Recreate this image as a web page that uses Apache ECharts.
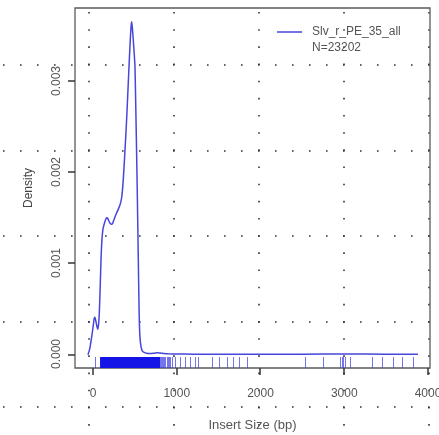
<!DOCTYPE html>
<html>
<head>
<meta charset="utf-8">
<script src="https://cdn.jsdelivr.net/npm/echarts@6/dist/echarts.min.js"></script>
<style>
  html, body { margin: 0; padding: 0; background: #ffffff; }
  #chart { width: 439px; height: 435px; }
</style>
</head>
<body>
<div id="chart"></div>
<script>
// ---- data ----
const densityX = [-60, -40, -20, 0, 10, 18, 26, 36, 46, 56, 66, 76, 86, 96, 106, 118, 130, 143, 155, 165,
  178, 192, 205, 220, 235, 250, 263, 280, 300, 322, 342, 360, 382, 400, 415, 430, 445, 455, 462, 470,
  480, 490, 501, 510, 520, 530, 540, 550, 560, 575, 590, 610, 640, 680, 720, 760, 800, 850, 900, 1000,
  1200, 1500, 2000, 2500, 3000, 3500, 3880];
const densityY = [0, 0.00006, 0.00017, 0.00030, 0.00037, 0.00041, 0.00040, 0.00036, 0.00031, 0.00028,
  0.00033, 0.00047, 0.00075, 0.00105, 0.00125, 0.00137, 0.00142, 0.00146, 0.00149, 0.00150,
  0.00149, 0.00146, 0.00144, 0.00143, 0.00144, 0.00148, 0.00151, 0.00155, 0.00159, 0.00164,
  0.00172, 0.00190, 0.00224, 0.00255, 0.00285, 0.00316, 0.00345, 0.00360, 0.00365, 0.00358,
  0.00346, 0.00333, 0.00316, 0.00275, 0.00225, 0.00170, 0.00110, 0.00050, 0.00020, 0.00008,
  0.00004, 0.000025, 0.000015, 0.000012, 0.000015, 0.00002, 0.000018, 0.000012, 0.000009, 0.000007,
  0.000006, 0.000006, 0.000006, 0.000006, 0.000007, 0.000006, 0.000006];
const rugTicks = [24, 805, 815, 825, 840, 850, 865, 880, 895, 910, 925, 945, 985, 1040, 1100, 1160,
  1215, 1250, 1420, 1510, 1600, 1670, 1745, 1840, 2530, 2750, 2950, 2970, 2990, 3010, 3070,
  3330, 3450, 3580, 3690, 3820];
const rugBlocks = [[84, 800]];
const xTicks = [0, 1000, 2000, 3000, 4000];
const yTicks = [0, 0.001, 0.002, 0.003];
const seriesName = 'Slv_r_PE_35_all';
const countLabel = 'N=23202';
const xTitle = 'Insert Size (bp)';
const yTitle = 'Density';

// ---- chart ----
const X_MIN = -215, X_MAX = 4024;
const Y_MIN = -0.000146, Y_MAX = 0.0038;
const RUG_H = 11;
const FONT = "'Liberation Sans', Arial, Helvetica, sans-serif";
const TXT = '#555555';
const TICK = '#333333';
const BORDER = '#5a5a5a';
const LINE = '#4646dc';

const chart = echarts.init(document.getElementById('chart'), null, { renderer: 'canvas' });

const hiddenAxis = (gi, extra) => Object.assign({
  gridIndex: gi, type: 'value', min: 0, max: 1,
  axisLine: { show: false, onZero: false }, axisTick: { show: false }, axisLabel: { show: false },
  splitLine: { show: false }
}, extra || {});

const G = { show: false, outerBoundsMode: 'none', containLabel: false };

const option = {
  animation: false,
  backgroundColor: '#ffffff',
  textStyle: { fontFamily: FONT },
  grid: [
    // 0: plot region
    Object.assign({}, G, { left: 75, top: 8, width: 355, height: 360, show: true, borderColor: BORDER, borderWidth: 1.3, backgroundColor: 'transparent', z: 1 }),
    // 1, 2: dotted overlay lines
    Object.assign({}, G, { left: 89, top: 0, width: 340, height: 435 }),
    Object.assign({}, G, { left: 0, top: 65, width: 439, height: 342 }),
    // 3: x label axis (0..4000 span of the plot's x scale)
    Object.assign({}, G, { left: 93, top: 8, width: 335, height: 360 }),
    // 4: y label axis (0..0.003 span of the plot's y scale)
    Object.assign({}, G, { left: 75, top: 81, width: 355, height: 273 }),
    // 5: strip under the box holding x tick marks
    Object.assign({}, G, { left: 75, top: 368, width: 355, height: 7 }),
    // 6: strip left of the box holding y tick marks
    Object.assign({}, G, { left: 68, top: 8, width: 7, height: 360 })
  ],
  xAxis: [
    {
      gridIndex: 0, type: 'value', min: X_MIN, max: X_MAX, position: 'bottom',
      axisLine: { show: false, onZero: false }, axisTick: { show: false }, axisLabel: { show: false },
      splitLine: { show: false },
      name: xTitle, nameLocation: 'middle', nameGap: 51,
      nameTextStyle: { color: TXT, fontSize: 13, fontFamily: FONT }
    },
    hiddenAxis(1, {
      min: 0, max: 340, interval: 85,
      splitLine: { show: true, lineStyle: { color: '#333333', width: 1.6, type: [1.6, 15.57], dashOffset: 5.2 } }
    }),
    hiddenAxis(2),
    {
      gridIndex: 3, type: 'value', min: xTicks[0], max: xTicks[xTicks.length - 1], interval: xTicks[1] - xTicks[0], position: 'bottom',
      axisLine: { show: false, onZero: false },
      axisTick: { show: false },
      axisLabel: { show: true, color: TXT, fontSize: 12, margin: 20, fontFamily: FONT, formatter: v => String(v) },
      splitLine: { show: false }
    },
    hiddenAxis(4),
    hiddenAxis(5, { min: X_MIN, max: X_MAX }),
    hiddenAxis(6)
  ],
  yAxis: [
    {
      gridIndex: 0, type: 'value', min: Y_MIN, max: Y_MAX, position: 'left',
      axisLine: { show: false, onZero: false }, axisTick: { show: false }, axisLabel: { show: false },
      splitLine: { show: false },
      name: yTitle, nameLocation: 'middle', nameGap: 40,
      nameTextStyle: { color: '#444444', fontSize: 12, fontFamily: FONT }
    },
    hiddenAxis(1),
    hiddenAxis(2, {
      min: 0, max: 342, interval: 85.5,
      splitLine: { show: true, lineStyle: { color: '#333333', width: 1.6, type: [1.6, 15.4], dashOffset: 14 } }
    }),
    hiddenAxis(3),
    {
      gridIndex: 4, type: 'value', min: yTicks[0], max: yTicks[yTicks.length - 1], interval: 0.001, position: 'left',
      axisLine: { show: false, onZero: false },
      axisTick: { show: false },
      axisLabel: { show: true, rotate: 90, color: TXT, fontSize: 12, margin: 12, fontFamily: FONT,
        formatter: v => v.toFixed(3) },
      splitLine: { show: false }
    },
    hiddenAxis(5),
    hiddenAxis(6, { min: Y_MIN, max: Y_MAX })
  ],
  legend: {
    orient: 'vertical', left: 277, top: 26, padding: 0,
    itemWidth: 25, itemHeight: 14, itemGap: 4,
    symbolKeepAspect: true,
    textStyle: { color: TXT, fontSize: 12, fontFamily: FONT, padding: [0, 0, 0, 5] },
    data: [
      { name: seriesName, icon: 'path://M0,0L100,0L100,6L0,6Z' },
      { name: countLabel, icon: 'path://M0,0L100,0L100,6L0,6Z' }
    ],
    selectedMode: false
  },
  series: [
    {
      name: seriesName, type: 'line', xAxisIndex: 0, yAxisIndex: 0,
      data: densityX.map((x, i) => [x, densityY[i]]),
      symbol: 'none', smooth: 0.2,
      lineStyle: { color: LINE, width: 1.5 },
      itemStyle: { color: LINE },
      z: 4
    },
    {
      name: countLabel, type: 'line', xAxisIndex: 0, yAxisIndex: 0,
      data: [], symbol: 'none',
      lineStyle: { color: 'rgba(0,0,0,0)', width: 0 },
      itemStyle: { color: 'rgba(0,0,0,0)' }
    },
    {
      // rug: densely packed region
      type: 'custom', xAxisIndex: 0, yAxisIndex: 0, z: 3,
      data: rugBlocks,
      renderItem: (params, api) => {
        const p0 = api.coord([api.value(0), Y_MIN]);
        const p1 = api.coord([api.value(1), Y_MIN]);
        return { type: 'rect', shape: { x: p0[0], y: p0[1] - RUG_H, width: p1[0] - p0[0], height: RUG_H },
          style: { fill: '#1414e6' } };
      }
    },
    {
      // rug: individual observations
      type: 'custom', xAxisIndex: 0, yAxisIndex: 0, z: 3,
      data: rugTicks.map(v => [v]),
      renderItem: (params, api) => {
        const p = api.coord([api.value(0), Y_MIN]);
        const x = Math.round(p[0]) + 0.5;
        return { type: 'line', shape: { x1: x, y1: p[1], x2: x, y2: p[1] - RUG_H },
          style: { stroke: '#3a3ae0', lineWidth: 1, opacity: 0.7 } };
      }
    },
    {
      // x axis tick marks: strip grid under the box
      type: 'custom', xAxisIndex: 5, yAxisIndex: 5, z: 5, silent: true,
      data: xTicks.map(v => [v, 1]),
      renderItem: (params, api) => {
        const top = api.coord([api.value(0), 1]);
        const bot = api.coord([api.value(0), 0]);
        const x = Math.round(top[0]);
        return { type: 'rect', shape: { x: x - 0.75, y: top[1], width: 1.5, height: bot[1] - top[1] },
          style: { fill: TICK } };
      }
    },
    {
      // y axis tick marks: strip grid left of the box
      type: 'custom', xAxisIndex: 6, yAxisIndex: 6, z: 5, silent: true,
      data: yTicks.map(v => [0, v]),
      renderItem: (params, api) => {
        const l = api.coord([0, api.value(1)]);
        const r = api.coord([1, api.value(1)]);
        const y = Math.round(l[1]);
        return { type: 'rect', shape: { x: l[0], y: y - 0.75, width: r[0] - l[0], height: 1.5 },
          style: { fill: TICK } };
      }
    }
  ]
};
chart.setOption(option);
</script>
</body>
</html>
